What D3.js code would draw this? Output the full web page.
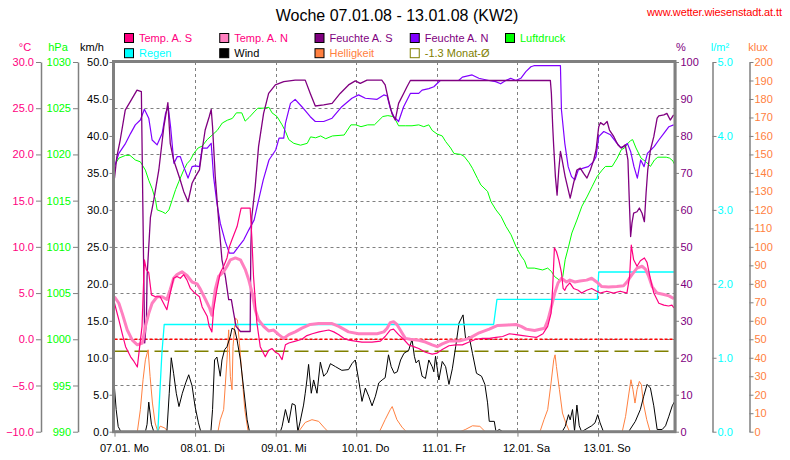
<!DOCTYPE html>
<html><head><meta charset="utf-8">
<script src="https://cdn.jsdelivr.net/npm/d3@7"></script>
<style>
body{margin:0;background:#fff;}
svg text{font-family:"Liberation Sans",Arial,sans-serif;}
</style>
</head><body>
<svg id="chart" width="790" height="460"></svg>
<script>
// ---------- data (time in hours since 07.01. 00:00) ----------
const titleText = "Woche 07.01.08 - 13.01.08 (KW2)";
const siteText = "www.wetter.wiesenstadt.at.tt";
const dayTicks = [0, 24, 48, 72, 96, 120, 144];
const dayLabels = ["07.01. Mo", "08.01. Di", "09.01. Mi", "10.01. Do", "11.01. Fr", "12.01. Sa", "13.01. So"];
const tempTicks = [-10, -5, 0, 5, 10, 15, 20, 25, 30];
const pressTicks = [990, 995, 1000, 1005, 1010, 1015, 1020, 1025, 1030];
const windTicks = [0, 5, 10, 15, 20, 25, 30, 35, 40, 45, 50];
const humTicks = [0, 10, 20, 30, 40, 50, 60, 70, 80, 90, 100];
const rainTicks = [0, 1, 2, 3, 4, 5];
const luxTicks = [0,10,20,30,40,50,60,70,80,90,100,110,120,130,140,150,160,170,180,190,200];
const monthMean = -1.3;
const frostLine = 0;

const tempS = [[0,3.9],[1.3,2.1],[2.3,0.6],[3.3,-0.8],[4.8,-1.9],[5.8,-2.4],[6.8,-3.0],[7.4,-1.1],[8.2,1.4],[8.9,8.6],[9.5,7.5],[10.2,7.2],[11.0,4.8],[12.2,4.6],[13.6,4.6],[14.6,3.9],[15.6,3.2],[16.6,5.0],[17.6,6.6],[18.6,6.8],[19.6,6.6],[20.6,7.0],[21.6,6.4],[22.6,5.5],[23.9,5.0],[25.3,4.6],[26.1,3.5],[27.6,2.5],[28.2,1.4],[29.0,0.8],[29.5,3.2],[30.5,5.4],[31.5,7.2],[32.5,7.9],[33.5,8.8],[34.2,10.0],[35.0,10.8],[36.5,12.2],[37.7,14.2],[40.4,14.2],[40.9,11.0],[41.4,6.8],[42.4,1.8],[43.4,-0.8],[44.9,-1.9],[45.9,-1.2],[46.9,-1.0],[47.9,-1.4],[48.9,-1.6],[49.9,-2.2],[50.4,-1.4],[50.9,-0.6],[51.9,-0.4],[53.9,-0.2],[55.8,0.0],[57.3,0.4],[58.9,0.6],[60.9,0.8],[63.8,1.0],[65.3,0.8],[66.8,0.5],[68.3,0.1],[69.8,-0.1],[71.7,-0.2],[73.7,-0.3],[76.7,-0.3],[79.2,-0.2],[80.6,0.3],[82.1,1.0],[83.1,1.1],[84.6,0.5],[86.1,0.0],[87.6,-0.6],[89.1,-0.8],[90.6,-1.0],[92.6,-1.4],[94.6,-1.6],[96.1,-1.5],[97.6,-1.1],[99.6,-0.7],[101.6,-0.6],[103.6,-0.6],[105.6,-0.3],[107.6,0.0],[109.6,0.1],[111.6,0.1],[113.6,0.2],[115.6,0.3],[117.6,0.6],[119.6,0.5],[121.6,0.4],[123.6,0.3],[125.6,0.2],[127.6,0.6],[129.0,1.4],[130.0,2.8],[130.5,5.7],[131.0,9.9],[131.6,9.5],[132.3,8.6],[133.1,7.2],[133.6,5.5],[134.1,5.3],[134.6,5.7],[135.6,6.1],[136.7,5.5],[138.1,5.3],[139.1,5.0],[140.6,5.3],[142.1,5.5],[143.6,5.2],[144.6,5.0],[146.6,5.2],[148.6,5.0],[150.6,5.2],[152.6,5.0],[153.4,6.8],[153.9,10.2],[154.6,8.6],[155.6,7.9],[156.6,8.5],[157.8,8.8],[158.6,8.3],[159.6,6.5],[160.6,5.0],[162.1,3.9],[163.6,3.7],[165.0,3.6],[166.0,3.7],[166.6,3.4]];

const tempN = [[0,4.6],[1.3,3.9],[2.3,2.8],[3.8,1.0],[5.3,-0.1],[6.8,-0.6],[8.3,-0.4],[9.2,1.4],[10.2,2.8],[11.2,3.9],[12.7,4.6],[14.2,4.6],[15.6,4.3],[16.6,5.4],[17.6,6.6],[18.6,7.0],[20.1,7.3],[21.6,6.9],[23.1,6.2],[24.6,6.0],[25.6,5.4],[27.1,4.3],[28.3,3.4],[29.0,2.6],[30.0,5.4],[31.0,6.8],[32.5,7.3],[33.5,7.9],[34.5,8.6],[36.0,8.8],[37.5,8.6],[39.0,7.5],[40.0,6.4],[41.0,5.0],[41.9,3.2],[42.9,2.1],[44.4,1.4],[45.9,0.9],[47.4,1.0],[48.9,0.5],[50.4,0.1],[51.9,0.5],[53.8,0.8],[55.8,1.2],[58.3,1.6],[60.8,1.7],[64.8,1.7],[66.8,1.4],[69.7,0.8],[72.7,0.6],[75.7,0.6],[78.2,0.6],[80.2,0.8],[81.2,1.2],[82.1,1.8],[83.1,1.9],[84.1,1.6],[85.1,1.0],[86.6,0.1],[88.1,0.0],[90.6,-0.1],[92.6,-0.3],[94.6,-0.6],[96.1,-0.8],[97.6,-0.5],[99.6,-0.2],[102.6,-0.2],[105.6,0.1],[108.6,0.7],[111.6,1.1],[114.1,1.5],[117.1,1.55],[119.6,1.6],[121.1,1.4],[122.6,1.1],[125.1,0.95],[128.1,1.2],[129.1,2.1],[130.1,3.5],[131.1,5.0],[132.1,6.1],[133.1,6.6],[134.6,6.2],[135.6,6.4],[137.1,6.2],[138.6,6.3],[140.6,6.4],[142.1,6.6],[143.6,6.2],[145.1,5.7],[147.1,5.65],[149.6,5.7],[151.6,5.8],[152.6,6.2],[154.1,7.0],[155.6,7.7],[157.1,7.9],[158.1,7.6],[159.1,6.8],[160.1,5.7],[161.6,5.0],[163.6,4.85],[165.1,4.7],[166.6,4.4]];

const humS = [[0,68.6],[0.7,74.4],[1.7,78.9],[3.2,87],[4.7,89.3],[6.7,92.4],[8.0,92],[8.6,50],[9.0,24],[9.5,30],[9.7,42],[10.7,58],[11.7,62.7],[13.2,70.8],[14.7,82.5],[15.9,89],[16.6,78],[17.6,73.5],[18.6,70.8],[19.6,68],[20.6,65],[21.9,62.2],[23.1,67.2],[24.1,69],[25.3,70.8],[26.1,76.2],[27.0,81.6],[28.2,85.2],[28.8,87.2],[29.2,82.5],[30.0,69],[31.0,57.3],[32.0,46.5],[33.0,42],[34.0,35.7],[34.8,35.7],[35.5,32],[36.2,28.5],[37.5,27.1],[40.4,27.1],[40.6,50],[40.9,58.2],[41.9,66.3],[42.9,77.1],[44.4,86.1],[45.9,91.5],[47.9,93.8],[50.4,94.7],[53.8,95.1],[56.8,95.1],[58.3,91.5],[59.8,88.1],[62.3,88.4],[64.8,88.8],[67.2,91.5],[69.7,93.8],[71.7,94.9],[73.2,94.2],[75.2,95.1],[79.6,95.1],[80.6,93.8],[81.6,89.7],[82.6,86.1],[83.6,84.3],[84.6,88.8],[86.1,91.5],[87.1,93.3],[88.1,95],[129.8,95],[130.1,91.5],[130.5,82.5],[130.8,77.1],[131.3,69],[131.8,64],[132.3,70.8],[132.8,75.8],[133.3,73.5],[134.2,69],[135.7,63.2],[136.7,67.2],[137.7,70.8],[138.7,71.3],[139.7,69.9],[140.7,68.6],[141.7,70.8],[142.7,73.5],[143.4,76.2],[144.2,82.5],[144.7,83.6],[145.7,83],[146.7,83.9],[147.4,81.6],[148.7,79.8],[149.9,77.6],[150.9,76.7],[152.1,77.6],[152.9,73.5],[153.3,62.7],[153.7,52.8],[154.1,56.4],[154.6,59.1],[155.6,59.5],[156.3,60.5],[157.1,59.1],[157.8,56.8],[158.3,64.5],[158.8,70.8],[159.6,76.2],[160.6,79.8],[161.6,84.8],[162.1,85.4],[163.6,85.7],[164.5,86.1],[165.5,84.3],[166.5,85.7]];

const humN = [[0,71.7],[1.3,75.3],[3.3,78],[4.8,80.7],[6.2,83],[7.7,84.3],[8.9,87.2],[10.2,84.8],[11.2,78.9],[12.7,77.6],[14.2,80.7],[15.2,86.1],[16.0,87.9],[16.7,82.5],[17.7,72.6],[18.7,74.4],[19.6,74.4],[20.6,71.7],[21.9,68.6],[23.1,71.7],[24.1,71.9],[25.3,71.7],[26.1,76.7],[27.6,76.7],[28.8,78],[29.5,69],[30.5,61.8],[31.5,56.4],[33.0,51.4],[34.2,48.3],[35.5,48.3],[37.0,50.1],[38.5,51.9],[40.0,54.6],[41.6,57.3],[42.7,61.8],[44.3,68.1],[46.0,73.5],[48.0,76.2],[49.0,79.4],[50.4,79.4],[50.9,83.4],[52.4,88.8],[53.8,89.9],[55.8,87.9],[58.3,85.2],[59.8,83.9],[62.3,83.9],[64.8,84.8],[67.7,87.9],[70.7,90.2],[72.7,91.1],[74.7,90.2],[78.2,89.9],[80.2,91.1],[81.2,90.8],[82.1,87.5],[83.2,85.2],[84.6,83.9],[86.1,87.9],[88.1,91.5],[90.6,91.5],[91.6,92.4],[93.6,92.8],[95.1,93.3],[97.0,95],[102.5,95],[103.6,95.9],[106.5,96.5],[108.5,95.6],[111.5,95],[113.5,94.7],[115.0,94.1],[116.5,95],[118.0,95.6],[119.5,95],[121.0,95.6],[122.5,97.4],[124.0,98.7],[124.9,99],[132.8,99],[133.1,87],[134.1,78],[135.1,71.7],[136.1,69],[137.1,68.1],[138.1,70.8],[139.6,71.3],[141.1,71.7],[142.6,73],[143.4,74.4],[144.2,79.8],[145.7,81.2],[147.7,80.3],[149.2,78.5],[150.7,76.9],[151.7,77.1],[152.7,78],[153.7,75.8],[154.7,71.7],[155.7,68.6],[156.7,73.5],[157.7,71.7],[158.7,75.3],[159.7,76.2],[160.7,77.1],[162.1,78.9],[163.6,80.7],[165.1,82.5],[166.5,83]];

const pressure = [[0,1018.8],[1.3,1019.6],[3.3,1019.9],[4.6,1019.9],[6.2,1019.4],[7.7,1019.2],[9.2,1018.3],[10.2,1017.2],[11.2,1016.3],[12.2,1015.1],[12.7,1014],[14.2,1013.8],[15.2,1013.6],[16.2,1014],[17.2,1015.1],[18.2,1016.2],[19.2,1017.1],[20.6,1018.3],[21.6,1019],[22.6,1019.4],[23.6,1020.1],[24.9,1020.7],[26.1,1020.9],[27.6,1021.6],[29.1,1022.1],[30.6,1022.6],[32.1,1023.4],[33.6,1023.7],[35.1,1023.9],[36.3,1024.5],[37.9,1024.5],[38.9,1023.6],[40.1,1024],[41.6,1024.6],[42.7,1025],[44.3,1025],[46.0,1025.1],[46.9,1024.5],[48.4,1024.1],[49.9,1023.2],[50.9,1022.5],[51.9,1021.6],[53.4,1021.2],[55.4,1021],[57.4,1021.2],[58.4,1021.9],[59.9,1021.8],[61.4,1022],[62.9,1021.7],[64.9,1022],[68.4,1022.1],[70.4,1023.2],[71.9,1023.2],[73.4,1023],[75.4,1023.2],[77.4,1023.2],[79.9,1024.1],[81.4,1024.2],[82.9,1024.1],[83.6,1023.8],[84.6,1023.1],[86.6,1023.1],[88.6,1023.1],[90.6,1023.2],[92.1,1023],[93.6,1023.2],[94.6,1022.6],[96.1,1022.2],[97.6,1022],[98.6,1021.4],[100.1,1020.7],[101.1,1020.1],[103.1,1020],[104.1,1019.8],[105.6,1019.1],[106.6,1018.5],[108.1,1017.4],[109.1,1016.7],[111.1,1016],[112.1,1014.9],[113.6,1014],[115.1,1013.3],[116.6,1012.2],[118.1,1011.3],[119.6,1010],[121.1,1009],[122.1,1008.5],[122.9,1007.7],[125.0,1007.7],[127.5,1007.5],[129.0,1007.7],[130.2,1007.3],[131.0,1006.8],[132.5,1006.4],[133.5,1006.8],[134.2,1008.6],[135.2,1010],[136.2,1011.5],[137.7,1012.9],[139.2,1014.4],[140.7,1015.4],[142.2,1016.5],[143.7,1017.6],[145.2,1018.3],[146.2,1018.7],[148.2,1018.7],[149.7,1019.6],[150.9,1020.5],[151.9,1020.7],[152.9,1021.2],[153.7,1021.5],[154.3,1021.6],[155.3,1020.7],[156.8,1019.6],[158.3,1019.2],[159.6,1018.7],[160.8,1019.4],[161.8,1019.7],[164.3,1019.7],[165.3,1019.6],[166.3,1019.3],[166.6,1019]];

const rain = [[0,0],[12.9,0],[14.1,1.05],[14.8,1.45],[112.9,1.45],[113.9,1.79],[143.8,1.79],[144.2,2.16],[166.8,2.16]];

const wind = [[0,5.9],[0.5,3.0],[1.1,0.7],[1.9,0],[9.2,0],[9.7,1.0],[10.2,4.0],[11.0,1.0],[11.7,0],[15.6,0],[16.3,5.2],[16.9,10.0],[17.6,7.9],[18.4,5.2],[19.2,3.4],[20.2,5.2],[21.2,6.6],[22.1,7.7],[23.1,6.2],[24.0,3.4],[25.0,1.2],[25.7,0],[28.7,0],[29.2,3.0],[29.8,9.7],[30.5,10.1],[31.5,7.5],[32.0,9.7],[32.8,11.1],[33.5,11.5],[34.5,12.9],[35.0,14.0],[35.8,13.8],[36.5,12.4],[37.5,9.7],[38.5,5.7],[39.5,1.6],[40.2,0],[49.4,0],[49.9,0.7],[50.9,3.0],[51.9,1.2],[52.9,3.8],[53.8,3.6],[54.6,0],[55.3,1.4],[56.3,3.6],[56.8,5.2],[57.3,7.0],[57.8,9.1],[58.6,5.2],[59.3,7.0],[60.3,5.2],[61.3,9.4],[62.3,7.5],[63.3,8.0],[64.3,9.2],[65.8,8.8],[67.7,8.3],[69.7,8.4],[70.7,9.2],[71.7,9.7],[72.7,7.0],[73.7,4.1],[74.7,5.9],[75.7,4.8],[76.7,3.5],[77.7,4.8],[78.7,6.6],[79.7,7.0],[80.6,7.3],[81.6,10.4],[82.4,8.8],[83.3,7.9],[84.2,8.1],[85.2,9.7],[86.2,10.6],[87.6,11.0],[88.6,12.5],[89.3,10.2],[89.8,9.3],[90.6,9.7],[91.6,7.5],[92.6,7.2],[93.6,9.7],[94.6,8.8],[95.1,8.1],[95.6,10.2],[96.6,7.0],[97.6,9.5],[98.6,8.8],[99.6,6.4],[100.6,8.5],[101.6,11.5],[102.6,14.7],[103.8,15.8],[104.6,12.4],[105.6,12.9],[106.6,10.6],[107.8,7.9],[109.3,7.5],[110.3,6.4],[111.1,3.9],[111.6,1.4],[113.1,1.4],[113.6,0],[114.6,0.3],[115.6,0],[133.3,0],[134.2,0.7],[135.2,2.3],[135.7,1.6],[136.4,3.0],[137.0,0.1],[137.7,3.6],[138.4,0.8],[139.1,0],[142.1,0.8],[143.1,1.2],[143.9,2.3],[144.6,1.2],[145.6,0],[153.1,0],[155.1,1.4],[156.6,3.0],[157.6,4.8],[158.6,6.4],[159.6,5.9],[160.6,3.5],[161.6,0.3],[163.1,0.3],[164.1,0.8],[165.1,2.1],[166.1,3.5],[166.8,4.1]];

const light = [[0,0],[6.8,0],[7.7,11.9],[8.5,28.1],[9.2,38.9],[10.0,44.3],[10.6,29.9],[11.3,15.5],[12.1,4.7],[12.9,0],[13.6,3],[15.0,2],[15.9,0],[30.8,0],[31.5,6.5],[32.5,11.9],[33.5,38.9],[34.0,55.1],[34.5,29.9],[35.0,22.7],[35.3,46.1],[36.0,61.4],[36.6,60.5],[37.2,47.9],[38.0,29.9],[38.8,11.9],[39.8,0],[54.8,0],[56.8,5],[58.8,6.5],[60.8,5.6],[62.3,2.5],[63.6,0],[78.9,0],[80.6,6.5],[82.1,11.9],[82.7,13.6],[84.1,6.5],[85.6,2.5],[86.9,0],[103.0,0],[104.6,1.3],[106.6,3.2],[108.8,2.9],[110.4,0],[126.7,0],[127.9,6.5],[129.0,11.9],[130.0,26.3],[130.8,38.9],[131.2,41.6],[131.6,35.3],[132.5,22.7],[133.4,10.1],[134.4,4.7],[135.5,0],[151.2,0],[152.2,8.3],[153.2,20.9],[153.8,28.1],[154.4,22.7],[155.0,15.5],[155.6,22.7],[156.3,27.2],[156.9,25.4],[157.5,15.5],[158.5,6.5],[159.5,0],[166.8,0]];

const legendNames = ["Temp. A. S","Temp. A. N","Feuchte A. S","Feuchte A. N","Luftdruck","Regen","Wind","Helligkeit","-1.3 Monat-\u00D8"];

// ---------- drawing ----------
const C = {tS:"#ff0080", tN:"#ff80c0", hS:"#800080", hN:"#8000ff", p:"#00ff00", r:"#00ffff", w:"#000000", l:"#ff8040", m:"#808000", grid:"#808080"};
const svg = d3.select("#chart");
svg.append("rect").attr("width",790).attr("height",460).attr("fill","#fff");

const L = 114.5, R = 674.5, T = 62, B = 431.7;
const x = d3.scaleLinear().domain([0,168]).range([L, L + 168*3.358]);
const yT = d3.scaleLinear().domain([-10,30]).range([B,T]);
const yP = d3.scaleLinear().domain([990,1030]).range([B,T]);
const yW = d3.scaleLinear().domain([0,50]).range([B,T]);
const yH = d3.scaleLinear().domain([0,100]).range([B,T]);
const yR = d3.scaleLinear().domain([0,5]).range([B,T]);
const yL = d3.scaleLinear().domain([0,200]).range([B,T]);

// title
svg.append("text").attr("x",397).attr("y",21).attr("text-anchor","middle")
  .attr("font-size",16).attr("fill","#000").text(titleText);
svg.append("text").attr("x",647).attr("y",16).attr("font-size",11).attr("fill","#ff0000")
  .attr("textLength",135).text(siteText);

// legend
const legCols = [C.tS, C.tN, C.hS, C.hN, C.p, C.r, C.w, C.l, C.m];
const legFill = [C.tS, C.tN, C.hS, C.hN, C.p, C.r, C.w, C.l, "none"];
const legText = [C.tS, C.tS, C.hS, C.hS, C.p, C.r, "#000", C.l, C.m];
legendNames.forEach((n,i)=>{
  const col = i<5 ? i : i-5, row = i<5 ? 0 : 1;
  const gx = 124 + col*95.25, gy = 33 + row*15.2;
  svg.append("rect").attr("x",gx+0.5).attr("y",gy+0.5).attr("width",9).attr("height",9)
    .attr("fill",legFill[i]).attr("stroke", i===8 ? C.m : "#000").attr("stroke-width",1);
  svg.append("text").attr("x",gx+15).attr("y",gy+8.7).attr("font-size",11)
    .attr("fill",legText[i]).text(n);
});

// unit labels
[["\u00B0C",25,C.tS],["hPa",58,C.p],["km/h",92,"#000"],["%",681,C.hS],["l/m\u00B2",720,C.r],["klux",758,C.l]]
 .forEach(u=>svg.append("text").attr("x",u[1]).attr("y",51).attr("text-anchor","middle")
   .attr("font-size",11).attr("fill",u[2]).text(u[0]));

// grid
const grid = svg.append("g").attr("stroke",C.grid).attr("stroke-width",1).attr("stroke-dasharray","3,3");
tempTicks.slice(1,-1).forEach(v=>grid.append("line").attr("x1",L).attr("x2",R).attr("y1",Math.round(yT(v))+0.5).attr("y2",Math.round(yT(v))+0.5));
dayTicks.slice(1).forEach(d=>grid.append("line").attr("x1",Math.round(x(d))+0.5).attr("x2",Math.round(x(d))+0.5).attr("y1",T).attr("y2",B));

// clip
svg.append("clipPath").attr("id","clip").append("rect").attr("x",L).attr("y",T).attr("width",R-L).attr("height",B-T);
const plot = svg.append("g").attr("clip-path","url(#clip)");

// reference lines
plot.append("line").attr("x1",L).attr("x2",R).attr("y1",yT(frostLine)).attr("y2",yT(frostLine))
  .attr("stroke","#ff0000").attr("stroke-width",1.5).attr("stroke-dasharray","3,2");
plot.append("line").attr("x1",L).attr("x2",R).attr("y1",yT(monthMean)).attr("y2",yT(monthMean))
  .attr("stroke",C.m).attr("stroke-width",1.5).attr("stroke-dasharray","14,6");

function drawLine(data, ys, color, w){
  const ln = d3.line().x(d=>x(d[0])).y(d=>ys(d[1]));
  plot.append("path").datum(data).attr("d",ln).attr("fill","none")
    .attr("stroke",color).attr("stroke-width",w).attr("stroke-linejoin","round");
}
drawLine(light, yL, C.l, 1);
drawLine(wind, yW, C.w, 1);
drawLine(rain, yR, C.r, 1.3);
drawLine(pressure, yP, C.p, 1);
drawLine(humN, yH, C.hN, 1.2);
drawLine(humS, yH, C.hS, 1.3);
drawLine(tempN, yT, C.tN, 3);
drawLine(tempS, yT, C.tS, 1.2);

// axes
function styleAxis(g, color){
  g.attr("font-size",11).attr("font-family",null);
  g.select(".domain").attr("stroke",C.grid).attr("stroke-width",1.5);
  g.selectAll(".tick line").attr("stroke",C.grid);
  g.selectAll(".tick text").attr("fill",color);
}
svg.append("g").attr("transform","translate(41,0)")
  .call(d3.axisLeft(yT).tickValues(tempTicks).tickFormat(d3.format(".1f")).tickSize(5).tickSizeOuter(0).tickPadding(2))
  .call(g=>styleAxis(g,C.tS));
svg.append("g").attr("transform","translate(78,0)")
  .call(d3.axisLeft(yP).tickValues(pressTicks).tickFormat(d3.format("d")).tickSize(5).tickSizeOuter(0).tickPadding(2))
  .call(g=>styleAxis(g,C.p));
svg.append("g").attr("transform","translate(113.5,0)")
  .call(d3.axisLeft(yW).tickValues(windTicks).tickFormat(d3.format(".1f")).tickSize(4).tickSizeOuter(0).tickPadding(1))
  .call(g=>styleAxis(g,"#000"));
svg.append("g").attr("transform","translate(675,0)")
  .call(d3.axisRight(yH).tickValues(humTicks).tickFormat(d3.format("d")).tickSize(4).tickSizeOuter(0).tickPadding(1.5))
  .call(g=>styleAxis(g,C.hS));
svg.append("g").attr("transform","translate(712.5,0)")
  .call(d3.axisRight(yR).tickValues(rainTicks).tickFormat(d3.format(".1f")).tickSize(4).tickSizeOuter(0).tickPadding(1))
  .call(g=>styleAxis(g,C.r));
svg.append("g").attr("transform","translate(749.5,0)")
  .call(d3.axisRight(yL).tickValues(luxTicks).tickFormat(d3.format("d")).tickSize(4).tickSizeOuter(0).tickPadding(1))
  .call(g=>styleAxis(g,C.l));
svg.append("g").attr("transform",`translate(0,${B})`)
  .call(d3.axisBottom(x).tickValues(dayTicks).tickFormat((d,i)=>dayLabels[i]).tickSize(5).tickSizeOuter(0).tickPadding(8))
  .call(g=>{styleAxis(g,"#000"); g.select(".domain").remove();
            g.selectAll(".tick text").attr("text-anchor","start").attr("dx",-15);});

// plot frame
svg.append("rect").attr("x",L-1).attr("y",T-0.5).attr("width",R-L+1.5).attr("height",B-T+0.5)
  .attr("fill","none").attr("stroke",C.grid).attr("stroke-width",3);
</script>
</body></html>
